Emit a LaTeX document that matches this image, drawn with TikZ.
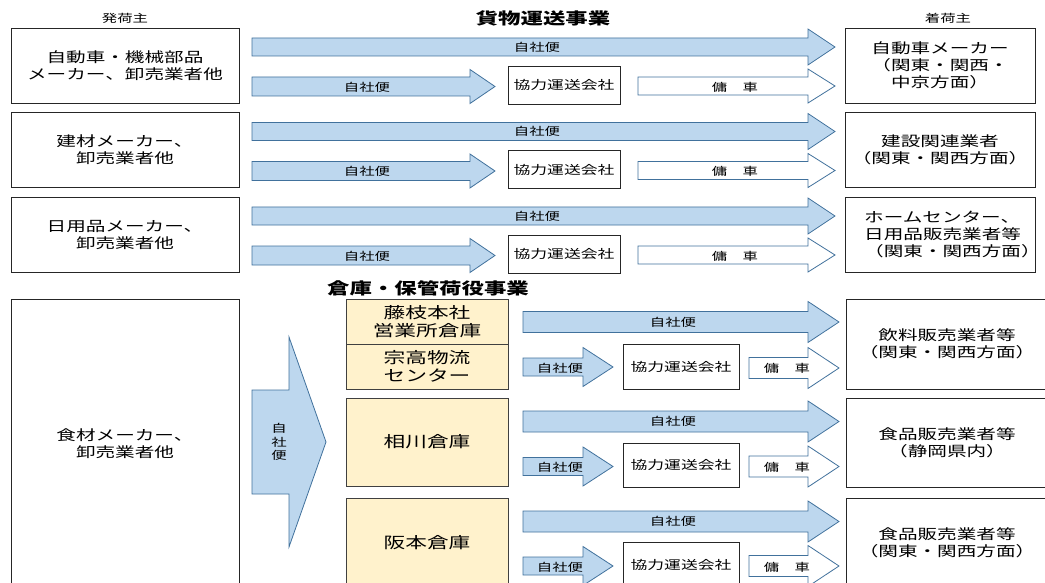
\documentclass[tikz,border=0pt]{standalone}
\usepackage{fontspec}
\setmainfont{Noto Sans CJK JP}[FakeStretch=1.4]
\usepackage{tikz}
\definecolor{arrowblue}{HTML}{BDD7EE}
\definecolor{arrowedge}{HTML}{41719C}
\definecolor{whfill}{HTML}{FFF2CC}
% block arrow: style, x start, x head base, x tip, y centre, body half, head half
\newcommand{\blkarrow}[7]{\draw[#1] (#2,#5-#6) -- (#3,#5-#6) -- (#3,#5-#7) -- (#4,#5) -- (#3,#5+#7) -- (#3,#5+#6) -- (#2,#5+#6) -- cycle;}

\begin{document}
\begin{tikzpicture}[x=1pt,y=-1pt,
    box/.style={draw=black!85, line width=0.8pt, fill=white, inner sep=0pt},
    whbox/.style={draw=black!75, line width=0.8pt, fill=whfill, inner sep=0pt},
    bluearr/.style={draw=arrowedge, line width=0.8pt, fill=arrowblue},
    whitearr/.style={draw=arrowedge, line width=0.8pt, fill=white},
    bigtxt/.style={font=\fontsize{14}{17}\selectfont, align=center},
    whtxt/.style={font=\fontsize{15.5}{18}\selectfont, align=center},
    kyotxt/.style={font=\fontsize{12}{14}\selectfont},
    smalltxt/.style={font=\fontsize{11}{13.5}\selectfont, align=center, inner sep=0pt},
    titletxt/.style={font=\fontsize{16}{18}\selectfont\bfseries}]
  \useasboundingbox (0,0) rectangle (1045,583);
  \clip (0,0) rectangle (1045,583);

  % headings
  \node[smalltxt] (hshipper) at (125,18) {発荷主};
  \node[smalltxt] (hreceiver) at (948,18) {着荷主};
  \node[titletxt] (htrans) at (543,18) {貨物運送事業};
  \node[titletxt] (hstore) at (428,288) {倉庫・保管荷役事業};

  % ---- row 1
  \node[box, bigtxt, minimum width=228pt, minimum height=75pt] (ship1) at (125,65.5) {自動車・機械部品\\メーカー、卸売業者他};
  \blkarrow{bluearr}{252}{808}{835}{47}{9}{18}
  \node[smalltxt] (own1a) at (537,47) {自社便};
  \blkarrow{bluearr}{252}{470}{495}{86.5}{9.5}{17}
  \node[smalltxt] (own1b) at (367,87) {自社便};
  \node[box, kyotxt, minimum width=112pt, minimum height=38pt] (kyo1) at (564,85) {協力運送会社};
  \blkarrow{whitearr}{638}{808}{835}{86}{9}{17}
  \node[smalltxt] (yo1) at (735,87) {傭　車};
  \node[box, bigtxt, minimum width=190pt, minimum height=75pt] (recv1) at (940,65.5) {自動車メーカー\\（関東・関西・\\中京方面）};

  % ---- row 2
  \node[box, bigtxt, minimum width=228pt, minimum height=75pt] (ship2) at (125,150) {建材メーカー、\\卸売業者他};
  \blkarrow{bluearr}{252}{808}{835}{131.5}{9}{18}
  \node[smalltxt] (own2a) at (537,131.5) {自社便};
  \blkarrow{bluearr}{252}{470}{495}{171}{9.5}{17}
  \node[smalltxt] (own2b) at (367,171.5) {自社便};
  \node[box, kyotxt, minimum width=112pt, minimum height=38pt] (kyo2) at (564,169.5) {協力運送会社};
  \blkarrow{whitearr}{638}{808}{835}{170.5}{9}{17}
  \node[smalltxt] (yo2) at (735,171.5) {傭　車};
  \node[box, bigtxt, minimum width=190pt, minimum height=75pt] (recv2) at (940,150) {建設関連業者\\（関東・関西方面）};

  % ---- row 3
  \node[box, bigtxt, minimum width=228pt, minimum height=75pt] (ship3) at (125,234.5) {日用品メーカー、\\卸売業者他};
  \blkarrow{bluearr}{252}{808}{835}{216}{9}{18}
  \node[smalltxt] (own3a) at (537,216) {自社便};
  \blkarrow{bluearr}{252}{470}{495}{255.5}{9.5}{17}
  \node[smalltxt] (own3b) at (367,256) {自社便};
  \node[box, kyotxt, minimum width=112pt, minimum height=38pt] (kyo3) at (564,254) {協力運送会社};
  \blkarrow{whitearr}{638}{808}{835}{255}{9}{17}
  \node[smalltxt] (yo3) at (735,256) {傭　車};
  \node[box, minimum width=190pt, minimum height=75pt] (recv3) at (940,234.5) {};
  \node[bigtxt, align=left, anchor=west, inner sep=0pt] (recv3txt) at (864,234.5) {ホームセンター、\\日用品販売業者等\\（関東・関西方面）};

  % ---- warehouse part
  \draw[box] (11,299) rectangle (239,600);
  \node[bigtxt] (ship4) at (125,444) {食材メーカー、\\卸売業者他};
  \blkarrow{bluearr}{252}{289}{326}{442}{52}{105}
  \node[smalltxt] (own4) at (279,442) {自\\社\\便};

  \node[whbox, whtxt, minimum width=162pt, minimum height=45pt] (whA) at (427,321.5) {藤枝本社\\営業所倉庫};
  \node[whbox, whtxt, minimum width=162pt, minimum height=45pt] (whB) at (427,366.5) {宗高物流\\センター};
  \node[whbox, whtxt, minimum width=162pt, minimum height=88pt] (whC) at (427,442) {相川倉庫};
  \draw[whbox] (346,498) rectangle (508,600);
  \node[whtxt] (whD) at (427,543) {阪本倉庫};

  % group A
  \blkarrow{bluearr}{523}{808}{839}{322}{10.5}{20.5}
  \node[smalltxt] (ownAa) at (673,322) {自社便};
  \blkarrow{bluearr}{523}{583}{613}{367}{9}{19.5}
  \node[smalltxt] (ownAb) at (560,368) {自社便};
  \node[box, kyotxt, minimum width=116pt, minimum height=45pt] (kyoA) at (681,366.5) {協力運送会社};
  \blkarrow{whitearr}{749}{808}{839}{368}{10.5}{20.5}
  \node[smalltxt] (yoA) at (787,368) {傭　車};
  \node[box, bigtxt, minimum width=202pt, minimum height=90pt] (recvA) at (947,344) {飲料販売業者等\\（関東・関西方面）};

  % group C
  \blkarrow{bluearr}{523}{808}{839}{421.5}{10.5}{20.5}
  \node[smalltxt] (ownCa) at (673,421.5) {自社便};
  \blkarrow{bluearr}{523}{583}{613}{466.5}{9}{19.5}
  \node[smalltxt] (ownCb) at (560,467.5) {自社便};
  \node[box, kyotxt, minimum width=116pt, minimum height=44pt] (kyoC) at (681,465) {協力運送会社};
  \blkarrow{whitearr}{749}{808}{839}{466.5}{10.5}{20.5}
  \node[smalltxt] (yoC) at (787,467.5) {傭　車};
  \node[box, bigtxt, minimum width=202pt, minimum height=89pt] (recvC) at (947,442.5) {食品販売業者等\\（静岡県内）};

  % group D
  \blkarrow{bluearr}{523}{808}{839}{521.5}{10.5}{20.5}
  \node[smalltxt] (ownDa) at (673,521.5) {自社便};
  \blkarrow{bluearr}{523}{583}{613}{566}{9}{19.5}
  \node[smalltxt] (ownDb) at (560,567) {自社便};
  \node[box, kyotxt, minimum width=116pt, minimum height=45pt] (kyoD) at (681,564.5) {協力運送会社};
  \blkarrow{whitearr}{749}{808}{839}{566}{10.5}{20.5}
  \node[smalltxt] (yoD) at (787,567) {傭　車};
  \draw[box] (846,498) rectangle (1048,600);
  \node[bigtxt] (recvD) at (947,543) {食品販売業者等\\（関東・関西方面）};
\end{tikzpicture}
\end{document}
